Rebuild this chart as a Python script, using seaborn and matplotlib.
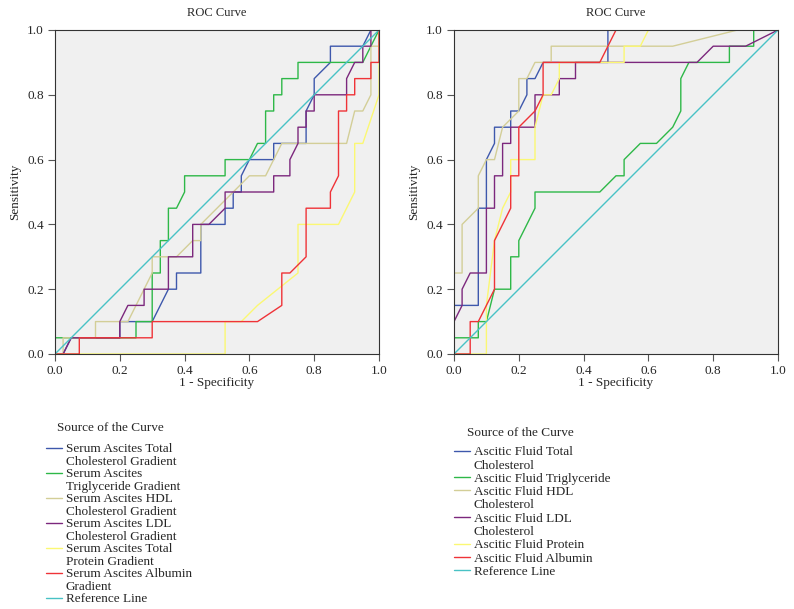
import matplotlib
matplotlib.use("Agg")
import matplotlib.pyplot as plt
import seaborn as sns
from matplotlib.lines import Line2D

# ---- datos (1 - especificidad, sensibilidad) ----
# Panel izquierdo: gradientes suero-ascitis
serum_tc_x = [0, 0.025, 0.05, 0.2, 0.2, 0.3, 0.35, 0.375, 0.375, 0.45, 0.45, 0.525, 0.525, 0.55, 0.55, 0.575, 0.575, 0.6, 0.675, 0.675, 0.775, 0.775, 0.8, 0.8, 0.85, 0.85, 0.95, 0.975, 1]
serum_tc_y = [0, 0, 0.05, 0.05, 0.1, 0.1, 0.2, 0.2, 0.25, 0.25, 0.4, 0.4, 0.45, 0.45, 0.5, 0.5, 0.55, 0.6, 0.6, 0.65, 0.65, 0.75, 0.8, 0.85, 0.9, 0.95, 0.95, 1.0, 1]

serum_tg_x = [0, 0, 0.25, 0.25, 0.3, 0.3, 0.325, 0.325, 0.35, 0.35, 0.375, 0.4, 0.4, 0.525, 0.525, 0.6, 0.625, 0.65, 0.65, 0.675, 0.675, 0.7, 0.7, 0.75, 0.75, 0.95, 0.975, 1]
serum_tg_y = [0, 0.05, 0.05, 0.1, 0.1, 0.25, 0.25, 0.35, 0.35, 0.45, 0.45, 0.5, 0.55, 0.55, 0.6, 0.6, 0.65, 0.65, 0.75, 0.75, 0.8, 0.8, 0.85, 0.85, 0.9, 0.9, 0.95, 1]

serum_hdl_x = [0, 0.025, 0.025, 0.125, 0.125, 0.225, 0.3, 0.3, 0.375, 0.425, 0.45, 0.45, 0.6, 0.65, 0.7, 0.9, 0.925, 0.95, 0.975, 0.975, 1.0, 1]
serum_hdl_y = [0, 0, 0.05, 0.05, 0.1, 0.1, 0.25, 0.3, 0.3, 0.35, 0.35, 0.4, 0.55, 0.55, 0.65, 0.65, 0.75, 0.75, 0.8, 0.95, 0.95, 1]

serum_ldl_x = [0, 0.025, 0.05, 0.2, 0.2, 0.225, 0.275, 0.275, 0.35, 0.35, 0.425, 0.425, 0.475, 0.525, 0.525, 0.675, 0.675, 0.725, 0.725, 0.75, 0.75, 0.775, 0.775, 0.8, 0.8, 0.9, 0.9, 0.925, 0.95, 0.95, 0.975, 0.975, 1]
serum_ldl_y = [0, 0, 0.05, 0.05, 0.1, 0.15, 0.15, 0.2, 0.2, 0.3, 0.3, 0.4, 0.4, 0.45, 0.5, 0.5, 0.55, 0.55, 0.6, 0.65, 0.7, 0.7, 0.75, 0.75, 0.8, 0.8, 0.85, 0.9, 0.9, 0.95, 0.95, 1.0, 1]

serum_tp_x = [0, 0.525, 0.525, 0.575, 0.625, 0.75, 0.75, 0.875, 0.925, 0.925, 0.95, 1.0, 1]
serum_tp_y = [0, 0, 0.1, 0.1, 0.15, 0.25, 0.4, 0.4, 0.5, 0.65, 0.65, 0.8, 1]

serum_alb_x = [0, 0.075, 0.075, 0.3, 0.3, 0.625, 0.7, 0.7, 0.725, 0.775, 0.775, 0.85, 0.85, 0.875, 0.875, 0.9, 0.9, 0.925, 0.925, 0.975, 0.975, 1.0, 1]
serum_alb_y = [0, 0, 0.05, 0.05, 0.1, 0.1, 0.15, 0.25, 0.25, 0.3, 0.45, 0.45, 0.5, 0.55, 0.75, 0.75, 0.8, 0.8, 0.85, 0.85, 0.9, 0.9, 1]

# Panel derecho: liquido ascitico
fluid_tc_x = [0, 0, 0.075, 0.075, 0.1, 0.1, 0.125, 0.125, 0.175, 0.175, 0.2, 0.225, 0.225, 0.25, 0.275, 0.475, 0.475, 1]
fluid_tc_y = [0, 0.15, 0.15, 0.45, 0.45, 0.6, 0.65, 0.7, 0.7, 0.75, 0.75, 0.8, 0.85, 0.85, 0.9, 0.9, 1.0, 1]

fluid_tg_x = [0, 0, 0.075, 0.075, 0.1, 0.125, 0.175, 0.175, 0.2, 0.2, 0.25, 0.25, 0.45, 0.5, 0.525, 0.525, 0.575, 0.625, 0.675, 0.7, 0.7, 0.725, 0.85, 0.85, 0.925, 0.925, 1]
fluid_tg_y = [0, 0.05, 0.05, 0.1, 0.1, 0.2, 0.2, 0.3, 0.3, 0.35, 0.45, 0.5, 0.5, 0.55, 0.55, 0.6, 0.65, 0.65, 0.7, 0.75, 0.85, 0.9, 0.9, 0.95, 0.95, 1.0, 1]

fluid_hdl_x = [0, 0, 0.025, 0.025, 0.075, 0.075, 0.1, 0.125, 0.15, 0.2, 0.2, 0.225, 0.25, 0.3, 0.3, 0.675, 0.875, 1]
fluid_hdl_y = [0, 0.25, 0.25, 0.4, 0.45, 0.55, 0.6, 0.6, 0.7, 0.75, 0.85, 0.85, 0.9, 0.9, 0.95, 0.95, 1.0, 1]

fluid_ldl_x = [0, 0, 0.025, 0.025, 0.05, 0.1, 0.1, 0.125, 0.125, 0.15, 0.15, 0.175, 0.175, 0.25, 0.25, 0.325, 0.325, 0.375, 0.375, 0.75, 0.8, 0.9, 1]
fluid_ldl_y = [0, 0.1, 0.15, 0.2, 0.25, 0.25, 0.45, 0.45, 0.55, 0.55, 0.65, 0.65, 0.7, 0.7, 0.8, 0.8, 0.85, 0.85, 0.9, 0.9, 0.95, 0.95, 1]

fluid_tp_x = [0, 0.1, 0.1, 0.125, 0.15, 0.175, 0.175, 0.25, 0.25, 0.275, 0.3, 0.325, 0.325, 0.525, 0.525, 0.575, 0.6, 1]
fluid_tp_y = [0, 0, 0.15, 0.35, 0.45, 0.5, 0.6, 0.6, 0.7, 0.8, 0.8, 0.85, 0.9, 0.9, 0.95, 0.95, 1.0, 1]

fluid_alb_x = [0, 0.05, 0.05, 0.075, 0.125, 0.125, 0.175, 0.175, 0.2, 0.2, 0.25, 0.275, 0.275, 0.45, 0.5, 1]
fluid_alb_y = [0, 0, 0.1, 0.1, 0.2, 0.35, 0.45, 0.55, 0.55, 0.7, 0.75, 0.8, 0.9, 0.9, 1.0, 1]

ref_x = [0, 1]
ref_y = [0, 1]

ticks = [0.0, 0.2, 0.4, 0.6, 0.8, 1.0]

left_curves = [
    ("Serum Ascites Total\nCholesterol Gradient", serum_tc_x, serum_tc_y, "#3e58ac"),
    ("Serum Ascites\nTriglyceride Gradient", serum_tg_x, serum_tg_y, "#2eb848"),
    ("Serum Ascites HDL\nCholesterol Gradient", serum_hdl_x, serum_hdl_y, "#d3ce97"),
    ("Serum Ascites LDL\nCholesterol Gradient", serum_ldl_x, serum_ldl_y, "#7c287d"),
    ("Serum Ascites Total\nProtein Gradient", serum_tp_x, serum_tp_y, "#fbf873"),
    ("Serum Ascites Albumin\nGradient", serum_alb_x, serum_alb_y, "#ef3338"),
    ("Reference Line", ref_x, ref_y, "#48c2c5"),
]
right_curves = [
    ("Ascitic Fluid Total\nCholesterol", fluid_tc_x, fluid_tc_y, "#3e58ac"),
    ("Ascitic Fluid Triglyceride", fluid_tg_x, fluid_tg_y, "#2eb848"),
    ("Ascitic Fluid HDL\nCholesterol", fluid_hdl_x, fluid_hdl_y, "#d3ce97"),
    ("Ascitic Fluid LDL\nCholesterol", fluid_ldl_x, fluid_ldl_y, "#7c287d"),
    ("Ascitic Fluid Protein", fluid_tp_x, fluid_tp_y, "#fbf873"),
    ("Ascitic Fluid Albumin", fluid_alb_x, fluid_alb_y, "#ef3338"),
    ("Reference Line", ref_x, ref_y, "#48c2c5"),
]

sns.set_style("ticks")
plt.rcParams['font.family'] = ['Liberation Serif', 'DejaVu Serif']
plt.rcParams['font.size'] = 9

fig = plt.figure(figsize=(7.94, 6.09), dpi=100)
W, H = 794, 609
ax1 = fig.add_axes([55 / W, 1 - 354 / H, 324 / W, 324 / H])
ax2 = fig.add_axes([454 / W, 1 - 354 / H, 324 / W, 324 / H])


def draw_panel(ax, curves):
    ax.set_facecolor("#f0f0f0")
    for label, xs, ys, col in curves:
        sns.lineplot(x=xs, y=ys, ax=ax, sort=False, estimator=None,
                     color=col, linewidth=1.0)
    ax.set_xlim(0, 1)
    ax.set_ylim(0, 1)
    ax.set_xticks(ticks)
    ax.set_yticks(ticks)
    ax.set_xticklabels([f"{t:.1f}" for t in ticks], fontsize=9.5)
    ax.set_yticklabels([f"{t:.1f}" for t in ticks], fontsize=9.5)
    ax.tick_params(direction="out", length=5, width=0.8, color="#555555", pad=3)
    for s in ax.spines.values():
        s.set_color("#333333")
        s.set_linewidth(0.8)
    ax.set_title("ROC Curve", fontsize=9, pad=10)
    ax.set_xlabel("1 - Specificity", fontsize=9.5, labelpad=0)
    ax.set_ylabel("Sensitivity", fontsize=9.5, labelpad=4)


def make_legend(curves, x0, y_title, y_first, title_dx, spacing):
    handles, labels = [], []
    for label, xs, ys, col in curves:
        parts = label.split("\n")
        handles.append(Line2D([], [], color=col, linewidth=1.0))
        labels.append(parts[0])
        for p in parts[1:]:
            handles.append(Line2D([], [], color="none"))
            labels.append(p)
    fig.text((x0 + title_dx) / W, 1 - y_title / H, "Source of the Curve",
             fontsize=9.5, va="center", ha="left")
    leg = fig.legend(handles, labels, loc="upper left",
                     bbox_to_anchor=(x0 / W, 1 - (y_first - 4) / H),
                     frameon=False, fontsize=9.5, handlelength=1.25,
                     handletextpad=0.25, labelspacing=spacing,
                     borderpad=0, borderaxespad=0)
    return leg


draw_panel(ax1, left_curves)
draw_panel(ax2, right_curves)
make_legend(left_curves, 46, 428, 447, 11, 0.02)
make_legend(right_curves, 454, 433, 450, 13, 0.08)

plt.savefig("out.png", dpi=100)
